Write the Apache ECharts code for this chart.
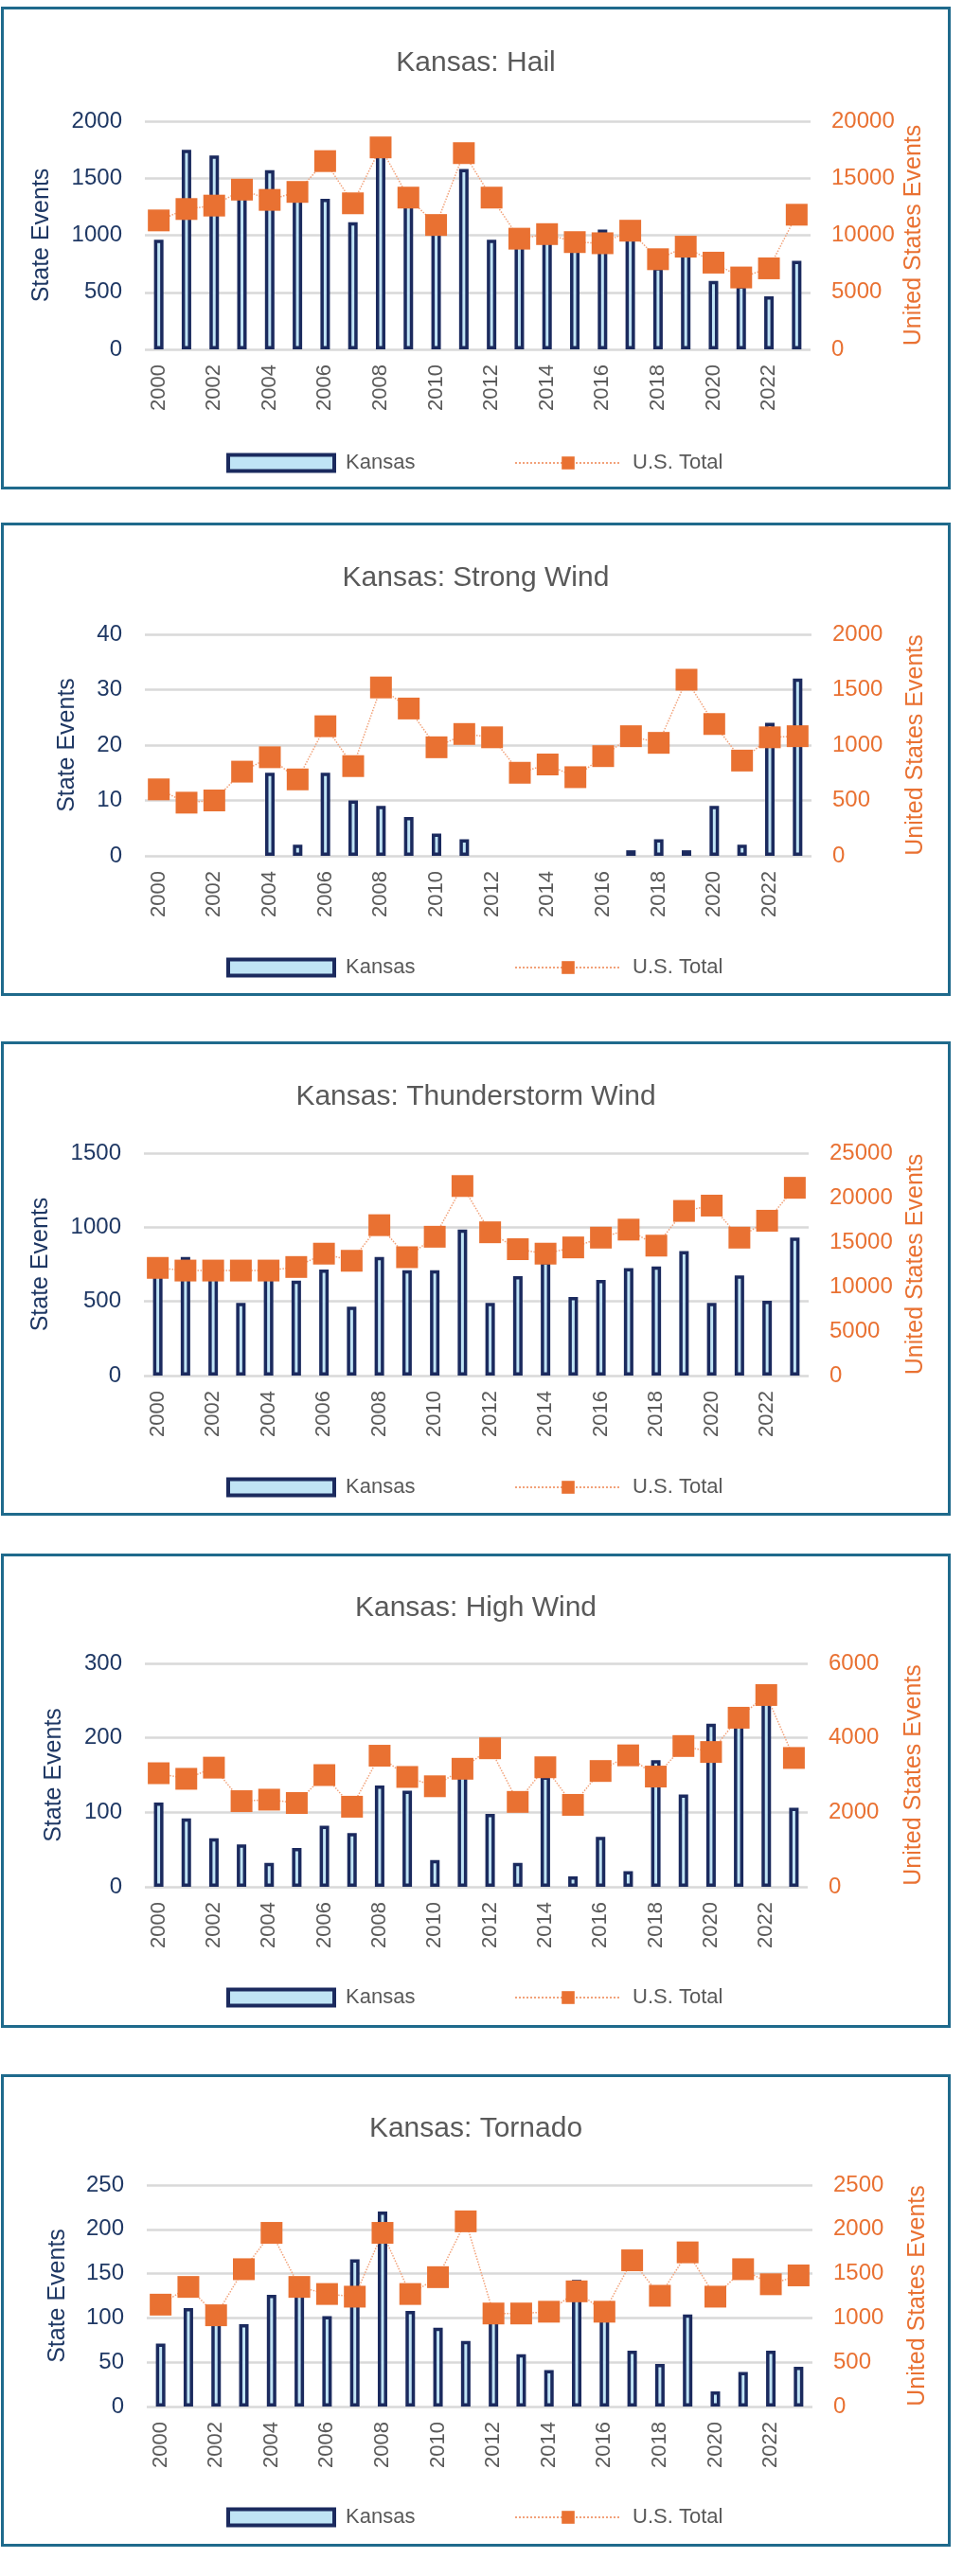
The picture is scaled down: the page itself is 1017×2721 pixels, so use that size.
<!DOCTYPE html>
<html><head><meta charset="utf-8">
<script src="https://cdn.jsdelivr.net/npm/echarts@6/dist/echarts.min.js"></script>
<style>
html,body{margin:0;padding:0;background:#fff;width:1017px;height:2721px;overflow:hidden;}
.chart{position:absolute;}
.frame{position:absolute;border:3px solid #1f6a8c;box-sizing:border-box;pointer-events:none;}
</style></head><body>
<div id="c0" class="chart"></div><div id="f0" class="frame"></div>
<div id="c1" class="chart"></div><div id="f1" class="frame"></div>
<div id="c2" class="chart"></div><div id="f2" class="frame"></div>
<div id="c3" class="chart"></div><div id="f3" class="frame"></div>
<div id="c4" class="chart"></div><div id="f4" class="frame"></div>
<script>
// ---- data ----
const years = ['2000','2001','2002','2003','2004','2005','2006','2007','2008','2009','2010','2011','2012','2013','2014','2015','2016','2017','2018','2019','2020','2021','2022','2023'];

const hailKansas = [960,1750,1700,1400,1570,1350,1320,1115,1720,1280,1030,1580,960,920,950,880,1050,1000,720,850,600,560,465,775];
const hailUS = [11300,12300,12600,14000,13100,13800,16500,12800,17700,13300,10900,17200,13300,9700,10100,9400,9300,10400,7900,9000,7600,6300,7100,11800];
const hailLeftTicks = [0,500,1000,1500,2000];
const hailRightTicks = [0,5000,10000,15000,20000];

const strongKansas = [0,0,0,0,15,2,15,10,9,7,4,3,0,0,0,0,0,1,3,1,9,2,24,32];
const strongUS = [600,480,500,760,890,690,1170,810,1520,1330,980,1100,1070,750,825,710,900,1080,1020,1590,1190,860,1070,1080];
const strongLeftTicks = [0,10,20,30,40];
const strongRightTicks = [0,500,1000,1500,2000];

const tstormKansas = [720,800,710,490,720,640,715,465,800,710,710,985,490,670,770,530,645,725,735,840,490,675,505,930];
const tstormUS = [12100,11800,11800,11800,11800,12200,13700,12900,16900,13300,15600,21300,16100,14200,13700,14400,15500,16400,14600,18500,19100,15500,17400,21100];
const tstormLeftTicks = [0,500,1000,1500];
const tstormRightTicks = [0,5000,10000,15000,20000,25000];

const highKansas = [113,92,65,57,32,52,82,72,136,129,36,150,98,32,148,14,67,21,170,124,219,235,255,106];
const highUS = [3050,2900,3200,2300,2340,2250,3000,2150,3520,2950,2700,3170,3720,2280,3210,2200,3110,3530,2960,3780,3620,4540,5150,3460];
const highLeftTicks = [0,100,200,300];
const highRightTicks = [0,2000,4000,6000];

const tornadoKansas = [71,111,98,93,126,128,102,166,220,108,89,74,100,59,41,143,100,63,48,104,17,39,63,45];
const tornadoUS = [1150,1350,1030,1550,1960,1350,1270,1240,1960,1270,1460,2090,1050,1050,1070,1300,1070,1650,1250,1740,1240,1550,1380,1480];
const tornadoLeftTicks = [0,50,100,150,200,250];
const tornadoRightTicks = [0,500,1000,1500,2000,2500];

const titles = ['Kansas: Hail','Kansas: Strong Wind','Kansas: Thunderstorm Wind','Kansas: High Wind','Kansas: Tornado'];
const barName = 'Kansas';
const lineName = 'U.S. Total';
const leftName = 'State Events';
const rightName = 'United States Events';

// ---- layout (page px) ----
const panels = [
  {fx:1, fy:7,    fw:1003, fh:510, gl:153, gr:856, gt:128,  gb:369,  ty:63,   ly:487,  lg:96, rg:97,  k:hailKansas,    u:hailUS,    lt:hailLeftTicks,    rt:hailRightTicks},
  {fx:1, fy:552,  fw:1003, fh:500, gl:153, gr:857, gt:670,  gb:904,  ty:607,  ly:1020, lg:69, rg:98,  k:strongKansas,  u:strongUS,  lt:strongLeftTicks,  rt:strongRightTicks},
  {fx:1, fy:1100, fw:1003, fh:501, gl:152, gr:854, gt:1218, gb:1453, ty:1155, ly:1569, lg:96, rg:101, k:tstormKansas,  u:tstormUS,  lt:tstormLeftTicks,  rt:tstormRightTicks},
  {fx:1, fy:1641, fw:1003, fh:501, gl:153, gr:853, gt:1757, gb:1993, ty:1695, ly:2108, lg:83, rg:100, k:highKansas,    u:highUS,    lt:highLeftTicks,    rt:highRightTicks},
  {fx:1, fy:2191, fw:1003, fh:499, gl:155, gr:858, gt:2308, gb:2542, ty:2245, ly:2657, lg:81, rg:99,  k:tornadoKansas, u:tornadoUS, lt:tornadoLeftTicks, rt:tornadoRightTicks}
];

const FONT = '"Liberation Sans", Arial, sans-serif';
const NAVY = '#1f3864';
const ORANGE = '#e97132';
const GRAY = '#595959';
const plain = v => String(v);

panels.forEach((p, i) => {
  const c = document.getElementById('c' + i);
  const f = document.getElementById('f' + i);
  [c, f].forEach(el => {
    el.style.left = p.fx + 'px'; el.style.top = p.fy + 'px';
    el.style.width = p.fw + 'px'; el.style.height = p.fh + 'px';
  });
  const chart = echarts.init(c, null, {renderer: 'canvas'});
  const gridLeft = p.gl - p.fx;
  const gridRight = (p.fx + p.fw) - p.gr;
  const gridTop = p.gt - p.fy;
  const gridBottom = (p.fy + p.fh) - p.gb;
  const legendTop = p.ly - p.fy - 9;
  const legendText = {color: GRAY, fontSize: 22, fontFamily: FONT, padding: [0, 0, 0, 7]};
  const opt = {
    animation: false,
    backgroundColor: '#ffffff',
    textStyle: {fontFamily: FONT},
    title: {
      text: titles[i], left: 'center', top: p.ty - p.fy - 11, padding: 0,
      textStyle: {color: GRAY, fontSize: 30, fontWeight: 'normal', fontFamily: FONT}
    },
    legend: [
      {data: [{name: barName, icon: 'rect'}], left: 239 - p.fx, top: legendTop, padding: 0, itemWidth: 112, itemHeight: 17,
       itemStyle: {borderWidth: 4, borderColor: '#1b2a5e', color: '#c0e4f5'},
       textStyle: legendText, selectedMode: false},
      {data: [lineName], left: 543 - p.fx, top: legendTop, padding: 0, itemWidth: 112, itemHeight: 17,
       textStyle: legendText, selectedMode: false}
    ],
    grid: {left: gridLeft, right: gridRight, top: gridTop, bottom: gridBottom, containLabel: false, outerBoundsMode: 'none'},
    xAxis: {
      type: 'category', data: years, boundaryGap: true,
      axisLine: {show: false}, axisTick: {show: false},
      axisLabel: {rotate: 90, interval: 1, color: GRAY, fontSize: 22, margin: 16, fontFamily: FONT, hideOverlap: false}
    },
    yAxis: [
      {
        type: 'value', position: 'left',
        min: p.lt[0], max: p.lt[p.lt.length - 1], interval: p.lt[1] - p.lt[0],
        axisLine: {show: false}, axisTick: {show: false},
        splitLine: {show: true, lineStyle: {color: '#d9d9d9', width: 2.5}},
        axisLabel: {color: NAVY, fontSize: 24, margin: 24, fontFamily: FONT, formatter: plain},
        name: leftName, nameLocation: 'middle', nameGap: p.lg, nameMoveOverlap: false,
        nameTextStyle: {color: NAVY, fontSize: 25, fontFamily: FONT}
      },
      {
        type: 'value', position: 'right',
        min: p.rt[0], max: p.rt[p.rt.length - 1], interval: p.rt[1] - p.rt[0],
        axisLine: {show: false}, axisTick: {show: false}, splitLine: {show: false},
        axisLabel: {color: ORANGE, fontSize: 24, margin: 22, fontFamily: FONT, formatter: plain},
        name: rightName, nameLocation: 'middle', nameGap: p.rg, nameMoveOverlap: false,
        nameTextStyle: {color: ORANGE, fontSize: 25, fontFamily: FONT}
      }
    ],
    series: [
      {
        name: barName, type: 'bar', yAxisIndex: 0, barWidth: 10, z: 2,
        data: p.k.map(v => (v === 0 ? null : v)),
        itemStyle: {color: '#c0e4f5', borderColor: '#1b2a5e', borderWidth: 3.5}
      },
      {
        name: lineName, type: 'line', yAxisIndex: 1, z: 3,
        data: p.u, symbol: 'rect', symbolSize: 23, showSymbol: true, showAllSymbol: true,
        itemStyle: {color: ORANGE},
        lineStyle: {color: '#f2a27a', width: 1.5, type: 'dotted'}
      }
    ]
  };
  chart.setOption(opt);
});
</script>
</body></html>
